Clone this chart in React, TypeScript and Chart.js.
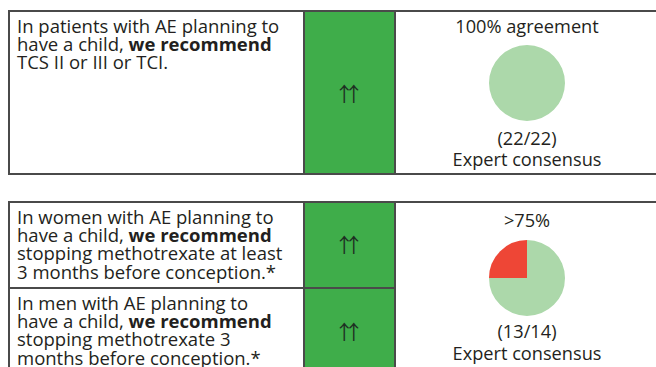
import React, { useEffect, useRef } from "react";
import { Chart, registerables } from "chart.js";

Chart.register(...registerables);

// ---- data ----
const sliceLabels = ["Agree", "Disagree"];
const sliceColors = ["#acd8aa", "#ee4636"];
const pie1Values = [22, 0];
const pie2Values = [75, 25];
const pie1Title = "100% agreement";
const pie2Title = ">75%";
const pie1Count = "(22/22)";
const pie2Count = "(13/14)";
const consensusLabel = "Expert consensus";
const strengthLabel = "↑↑";

const FONT = "'Open Sans', 'Noto Sans', sans-serif";
const TEXT = "#231f20";
const GREEN = "#3fad4a";
const BORDER = "#4a4a4a";

function Pie({ values, cx, cy, r }: { values: number[]; cx: number; cy: number; r: number }) {
  const ref = useRef<HTMLCanvasElement>(null);
  useEffect(() => {
    const chart = new Chart(ref.current!, {
      type: "pie",
      data: {
        labels: sliceLabels,
        datasets: [
          {
            data: values,
            backgroundColor: sliceColors,
            borderWidth: 0,
            hoverOffset: 0,
            offset: 0,
          },
        ],
      },
      options: {
        animation: false,
        responsive: false,
        maintainAspectRatio: false,
        layout: { padding: 0 },
        plugins: { legend: { display: false }, tooltip: { enabled: false } },
        events: [],
      },
    });
    return () => chart.destroy();
  }, [values]);
  const size = r * 2;
  return (
    <canvas
      ref={ref}
      width={size}
      height={size}
      style={{ position: "absolute", left: cx - r, top: cy - r, width: size, height: size }}
    />
  );
}

function Label({ x, baseline, children }: { x: number; baseline: number; children: React.ReactNode }) {
  const fs = 18.2;
  return (
    <div
      style={{
        position: "absolute",
        left: x - 150,
        width: 300,
        top: baseline - ((20 - 1.362 * fs) / 2 + 1.069 * fs),
        lineHeight: "20px",
        fontSize: fs,
        textAlign: "center",
        whiteSpace: "nowrap",
        color: TEXT,
        fontFamily: FONT,
      }}
    >
      {children}
    </div>
  );
}

function Box({ l, t, w, h, bg, children }: { l: number; t: number; w: number; h: number; bg?: string; children?: React.ReactNode }) {
  return (
    <div
      style={{
        position: "absolute",
        left: l,
        top: t,
        width: w,
        height: h,
        boxSizing: "border-box",
        border: `2px solid ${BORDER}`,
        background: bg || "transparent",
      }}
    >
      {children}
    </div>
  );
}

function TextCell({ l, t, w, h, lines }: { l: number; t: number; w: number; h: number; lines: React.ReactNode[] }) {
  const fs = 18.5;
  const lh = 18.3;
  const padTop = 23 - 2 - ((lh - 1.362 * fs) / 2 + 1.069 * fs);
  return (
    <Box l={l} t={t} w={w} h={h}>
      <div
        style={{
          paddingLeft: 7,
          paddingTop: padTop,
          fontFamily: FONT,
          fontSize: fs,
          lineHeight: `${lh}px`,
          color: TEXT,
          whiteSpace: "nowrap",
        }}
      >
        {lines.map((ln, i) => (
          <div key={i}>{ln}</div>
        ))}
      </div>
    </Box>
  );
}

function Arrows({ x, y }: { x: number; y: number }) {
  const fs = 20;
  const ls = -10.7;
  return (
    <div
      style={{
        position: "absolute",
        left: x - 30 + ls / 2,
        width: 60,
        top: y - 12,
        height: 24,
        lineHeight: "24px",
        textAlign: "center",
        fontFamily: "'Noto Sans CJK SC', sans-serif",
        fontSize: fs,
        letterSpacing: ls,
        whiteSpace: "nowrap",
        color: "#1e2f22",
      }}
    >
      {strengthLabel}
    </div>
  );
}

export default function App() {
  const b = (s: string) => <b style={{ fontWeight: 700 }}>{s}</b>;
  return (
    <div
      style={{
        position: "absolute",
        left: 0,
        top: 0,
        width: 656,
        height: 367,
        overflow: "hidden",
        background: "#fff",
      }}
    >
      {/* top table */}
      <TextCell
        l={8}
        t={10}
        w={297}
        h={165}
        lines={[
          "In patients with AE planning to",
          <>have a child, {b("we recommend")}</>,
          "TCS II or III or TCI.",
        ]}
      />
      <Box l={303} t={10} w={93} h={165} bg={GREEN} />
      <Box l={394} t={10} w={272} h={165} />
      <Arrows x={349} y={94} />
      <Label x={527} baseline={33}>{pie1Title}</Label>
      <Pie values={pie1Values} cx={527} cy={83} r={38} />
      <Label x={527} baseline={145}>{pie1Count}</Label>
      <Label x={527} baseline={166}>{consensusLabel}</Label>

      {/* bottom table */}
      <TextCell
        l={8}
        t={201}
        w={297}
        h={88}
        lines={[
          "In women with AE planning to",
          <>have a child, {b("we recommend")}</>,
          "stopping methotrexate at least",
          "3 months before conception.*",
        ]}
      />
      <TextCell
        l={8}
        t={287}
        w={297}
        h={100}
        lines={[
          "In men with AE planning to",
          <>have a child, {b("we recommend")}</>,
          "stopping methotrexate 3",
          "months before conception.*",
        ]}
      />
      <Box l={303} t={201} w={93} h={88} bg={GREEN} />
      <Box l={303} t={287} w={93} h={100} bg={GREEN} />
      <Box l={394} t={201} w={272} h={186} />
      <Arrows x={349} y={245} />
      <Arrows x={349} y={332} />
      <Label x={527} baseline={227}>{pie2Title}</Label>
      <Pie values={pie2Values} cx={527} cy={278} r={38} />
      <Label x={527} baseline={338}>{pie2Count}</Label>
      <Label x={527} baseline={360}>{consensusLabel}</Label>
    </div>
  );
}
